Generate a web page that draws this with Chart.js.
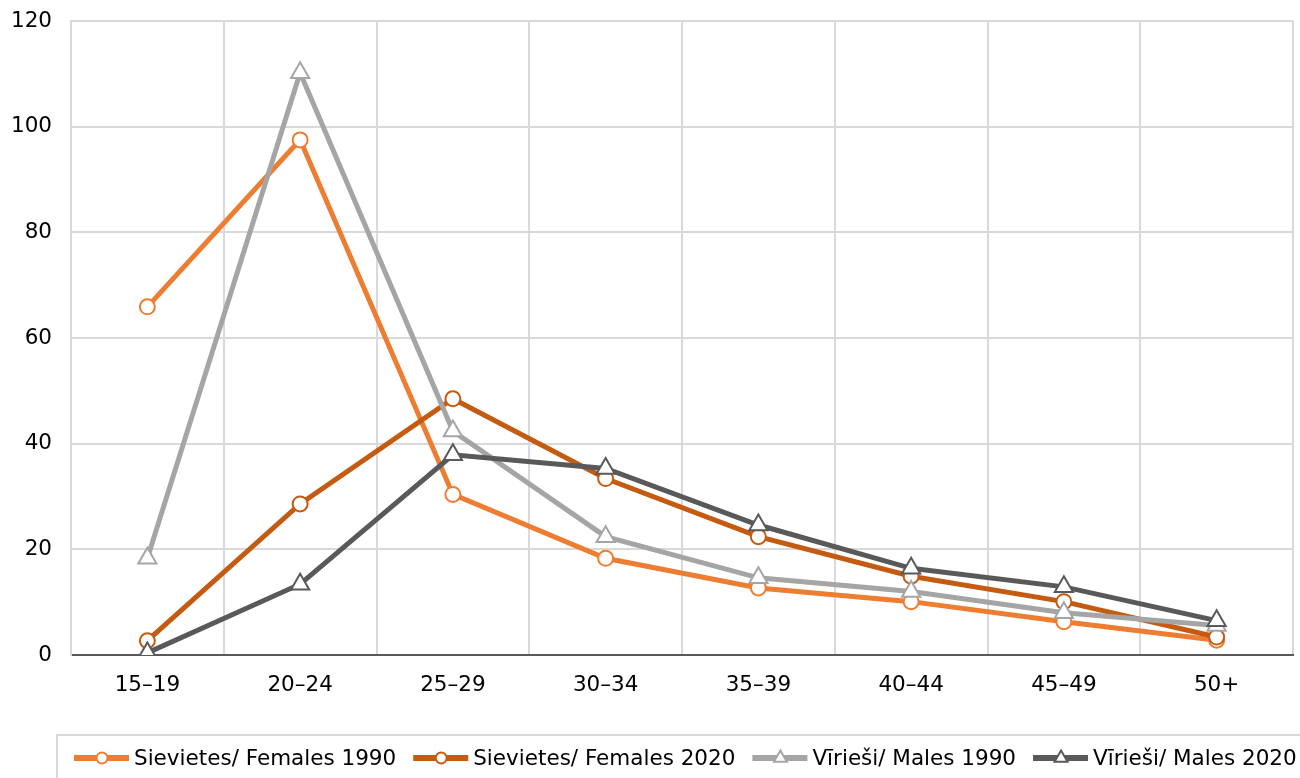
<!DOCTYPE html>
<html>
<head>
<meta charset="utf-8">
<script src="https://cdn.jsdelivr.net/npm/chart.js@4/dist/chart.umd.min.js"></script>
<style>
  html, body { margin: 0; padding: 0; background: #fff; }
  #wrap { width: 1300px; height: 778px; }
</style>
</head>
<body>
<div id="wrap"><canvas id="fertilityChart" width="1300" height="778"></canvas></div>
<script>
const ageGroups = ['15–19', '20–24', '25–29', '30–34', '35–39', '40–44', '45–49', '50+'];
const females1990 = [65.9, 97.5, 30.4, 18.3, 12.7, 10.1, 6.3, 2.8];
const females2020 = [2.7, 28.6, 48.5, 33.4, 22.4, 14.9, 10.1, 3.4];
const males1990 = [18.3, 110.2, 42.4, 22.4, 14.6, 12.0, 8.0, 5.6];
const males2020 = [0.4, 13.4, 37.9, 35.3, 24.6, 16.4, 12.9, 6.5];
const yTicks = [0, 20, 40, 60, 80, 100, 120];

function makeSeries(label, values, color, marker, order) {
    const isTri = marker === 'triangle';
    return {
        label: label,
        data: values,
        borderColor: color,
        backgroundColor: color,
        borderWidth: 5,
        pointStyle: marker,
        pointRadius: isTri ? 10.5 : 7.5,
        pointBorderWidth: 2,
        pointBorderColor: color,
        pointBackgroundColor: '#fff',
        tension: 0,
        order: order
    };
}

// stretch the plot area to the right edge like the original
const fixArea = {
    id: 'fixArea',
    afterLayout(chart) {
        const right = chart.width - 7;
        const area = chart.chartArea;
        area.right = right;
        area.width = right - area.left;
        const xs = chart.scales.x;
        xs.right = right;
        xs.width = right - xs.left;
        xs.configure();
    }
};

// legend drawn like the spreadsheet one: line with a marker in the middle
const lineLegend = {
    id: 'lineLegend',
    afterDraw(chart) {
        const ctx = chart.ctx;
        ctx.save();
        ctx.strokeStyle = '#D9D9D9';
        ctx.lineWidth = 2;
        ctx.strokeRect(57, 735, 1300, 100);

        ctx.font = '21.5px "DejaVu Sans"';
        ctx.textBaseline = 'middle';
        let x = 74;
        const y = 758;
        chart.data.datasets.forEach(ds => {
            ctx.strokeStyle = ds.borderColor;
            ctx.lineWidth = 6;
            ctx.beginPath();
            ctx.moveTo(x, y);
            ctx.lineTo(x + 55, y);
            ctx.stroke();
            const cx = x + 28;
            ctx.fillStyle = '#fff';
            ctx.lineWidth = 2;
            ctx.beginPath();
            if (ds.pointStyle === 'triangle') {
                const r = 7.5;
                ctx.moveTo(cx, y - r);
                ctx.lineTo(cx + r * 0.866, y + r * 0.5);
                ctx.lineTo(cx - r * 0.866, y + r * 0.5);
                ctx.closePath();
            } else {
                ctx.arc(cx, y, 5.5, 0, Math.PI * 2);
            }
            ctx.fill();
            ctx.stroke();
            ctx.fillStyle = '#000';
            ctx.fillText(ds.label, x + 60, y + 1);
            x += 60 + ctx.measureText(ds.label).width + 17;
        });
        ctx.restore();
    }
};

const chart = new Chart(document.getElementById('fertilityChart'), {
    type: 'line',
    data: {
        labels: ageGroups,
        datasets: [
            makeSeries('Sievietes/ Females 1990', females1990, '#ED7D31', 'circle', 4),
            makeSeries('Sievietes/ Females 2020', females2020, '#C55A11', 'circle', 3),
            makeSeries('Vīrieši/ Males 1990', males1990, '#A5A5A5', 'triangle', 2),
            makeSeries('Vīrieši/ Males 2020', males2020, '#595959', 'triangle', 1)
        ]
    },
    options: {
        responsive: false,
        animation: false,
        layout: { padding: { top: 21, right: 7, bottom: 81, left: 0 } },
        plugins: {
            legend: { display: false },
            tooltip: { enabled: false }
        },
        scales: {
            x: {
                offset: true,
                grid: { offset: true, color: '#D9D9D9', lineWidth: 2, drawTicks: false },
                border: { color: '#595959', width: 2 },
                ticks: { color: '#000', padding: 18, font: { family: 'DejaVu Sans', size: 21.5 } },
                afterFit: s => { s.height = 42; s.paddingLeft = 0; s.paddingRight = 0; }
            },
            y: {
                min: 0,
                max: 120,
                afterBuildTicks: s => { s.ticks = yTicks.map(v => ({ value: v })); },
                grid: { color: '#D9D9D9', lineWidth: 2, drawTicks: false },
                border: { color: '#D9D9D9', width: 2 },
                ticks: { color: '#000', padding: 19, font: { family: 'DejaVu Sans', size: 21.5 } },
                afterFit: s => { s.width = 71; s.paddingTop = 0; s.paddingBottom = 0; }
            }
        }
    },
    plugins: [fixArea, lineLegend]
});
</script>
</body>
</html>
